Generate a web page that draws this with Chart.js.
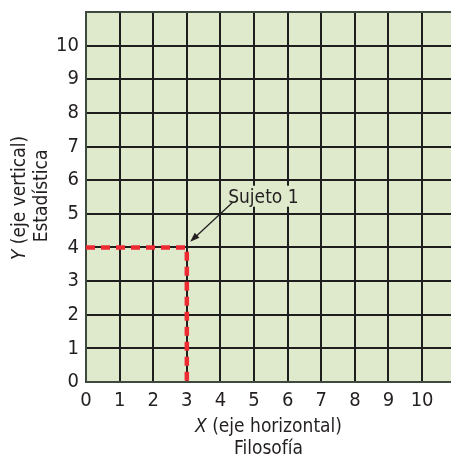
<!DOCTYPE html>
<html>
<head>
<meta charset="utf-8">
<script src="https://cdn.jsdelivr.net/npm/chart.js@4.4.1/dist/chart.umd.min.js"></script>
<style>
  body { margin: 0; background: #fff; }
  #wrap { width: 451px; height: 458px; }
</style>
</head>
<body>
<div id="wrap"><canvas id="chart" width="451" height="458"></canvas></div>
<script>
// values
var xTicks = [0, 1, 2, 3, 4, 5, 6, 7, 8, 9, 10];
var yTicks = [0, 1, 2, 3, 4, 5, 6, 7, 8, 9, 10];
var xMax = 10.86;
var yMax = 11;
var subjectX = 3;
var subjectY = 4;
var subjectLabel = 'Sujeto 1';
var arrowFrom = { x: 4.35, y: 5.33 };
var arrowTo = { x: 3.1, y: 4.17 };
var labelAt = { x: 4.23, y: 5.33 };

var FONT = "'DejaVu Sans Condensed', sans-serif";
var SIZE = 19;
var TICK_SIZE = 20;
var INK = '#231f20';
var BG = '#dfeacc';

var bgPlugin = {
	id: 'bg',
	beforeDraw: function (chart) {
		var a = chart.chartArea, ctx = chart.ctx;
		ctx.save();
		ctx.fillStyle = BG;
		ctx.fillRect(a.left, a.top, a.right - a.left, a.bottom - a.top);
		ctx.restore();
	}
};

var notePlugin = {
	id: 'notes',
	afterDraw: function (chart) {
		var ctx = chart.ctx, xs = chart.scales.x, ys = chart.scales.y;
		var a = chart.chartArea;
		ctx.save();
		// label with background
		ctx.font = SIZE + 'px ' + FONT;
		var lx = xs.getPixelForValue(labelAt.x), ly = ys.getPixelForValue(labelAt.y);
		var w = ctx.measureText(subjectLabel).width;
		ctx.fillStyle = BG;
		ctx.fillRect(lx - 1, ly - 17, w + 3, 21);
		ctx.fillStyle = INK;
		ctx.textBaseline = 'alphabetic';
		ctx.fillText(subjectLabel, lx, ly);

		// arrow
		var x1 = xs.getPixelForValue(arrowFrom.x), y1 = ys.getPixelForValue(arrowFrom.y);
		var x2 = xs.getPixelForValue(arrowTo.x), y2 = ys.getPixelForValue(arrowTo.y);
		var ang = Math.atan2(y2 - y1, x2 - x1);
		ctx.strokeStyle = INK;
		ctx.lineWidth = 1.3;
		ctx.beginPath();
		ctx.moveTo(x1, y1);
		ctx.lineTo(x2 - 6 * Math.cos(ang), y2 - 6 * Math.sin(ang));
		ctx.stroke();
		ctx.fillStyle = INK;
		ctx.beginPath();
		ctx.moveTo(x2, y2);
		ctx.lineTo(x2 - 10 * Math.cos(ang - 0.35), y2 - 10 * Math.sin(ang - 0.35));
		ctx.lineTo(x2 - 10 * Math.cos(ang + 0.35), y2 - 10 * Math.sin(ang + 0.35));
		ctx.closePath();
		ctx.fill();

		// axis titles, with italic X / Y
		ctx.fillStyle = INK;
		ctx.textBaseline = 'middle';
		function mixed(first, rest, cx, cy) {
			ctx.font = 'italic ' + SIZE + 'px ' + FONT;
			var w1 = ctx.measureText(first).width;
			ctx.font = SIZE + 'px ' + FONT;
			var w2 = ctx.measureText(rest).width;
			var sx = cx - (w1 + w2) / 2;
			ctx.font = 'italic ' + SIZE + 'px ' + FONT;
			ctx.textAlign = 'left';
			ctx.fillText(first, sx, cy);
			ctx.font = SIZE + 'px ' + FONT;
			ctx.fillText(rest, sx + w1, cy);
		}
		var mid = (a.left + a.right) / 2;
		mixed('X', ' (eje horizontal)', mid, 427);
		ctx.textAlign = 'center';
		ctx.font = SIZE + 'px ' + FONT;
		ctx.fillText('Filosofía', mid, 449);

		ctx.save();
		ctx.translate(20, 198);
		ctx.rotate(-Math.PI / 2);
		mixed('Y', ' (eje vertical)', 0, 0);
		ctx.restore();
		ctx.save();
		ctx.translate(42, 196);
		ctx.rotate(-Math.PI / 2);
		ctx.textAlign = 'center';
		ctx.font = SIZE + 'px ' + FONT;
		ctx.fillText('Estadística', 0, 0);
		ctx.restore();
		ctx.restore();
	}
};

var ctx = document.getElementById('chart').getContext('2d');
var chart = new Chart(ctx, {
	type: 'scatter',
	data: {
		datasets: [{
			label: subjectLabel,
			data: [{ x: 0, y: subjectY }, { x: subjectX, y: subjectY }, { x: subjectX, y: 0 }],
			showLine: true,
			borderColor: '#ee2a33',
			borderWidth: 4.5,
			borderDash: [9, 6],
			pointRadius: 0,
			fill: false
		}]
	},
	options: {
		responsive: false,
		animation: false,
		layout: { padding: { left: 0, right: 0, top: 12, bottom: 0 } },
		plugins: { legend: { display: false }, tooltip: { enabled: false } },
		scales: {
			x: {
				type: 'linear',
				min: 0,
				max: xMax,
				afterBuildTicks: function (s) {
					s.ticks = xTicks.map(function (v) { return { value: v }; });
				},
				afterFit: function (s) { s.height = 76; s.paddingLeft = 0; s.paddingRight = 0; },
				ticks: { color: INK, font: { family: FONT, size: TICK_SIZE }, padding: 7, maxRotation: 0, autoSkip: false },
				grid: { color: '#1e1e1e', lineWidth: 2, drawTicks: false },
				border: { color: '#3f4a3f', width: 2 }
			},
			y: {
				type: 'linear',
				min: 0,
				max: yMax,
				afterBuildTicks: function (s) {
					s.ticks = yTicks.concat([yMax]).map(function (v) { return { value: v }; });
				},
				afterFit: function (s) { s.width = 86; s.paddingTop = 0; s.paddingBottom = 0; },
				ticks: {
					color: INK, font: { family: FONT, size: TICK_SIZE }, padding: 7, autoSkip: false,
					callback: function (v) { return v > 10 ? '' : v; }
				},
				grid: {
					color: function (c) { return c.tick && c.tick.value === yMax ? '#3f4a3f' : '#1e1e1e'; },
					lineWidth: 2, drawTicks: false
				},
				border: { color: '#3f4a3f', width: 2 }
			}
		}
	},
	plugins: [bgPlugin, notePlugin]
});
</script>
</body>
</html>
